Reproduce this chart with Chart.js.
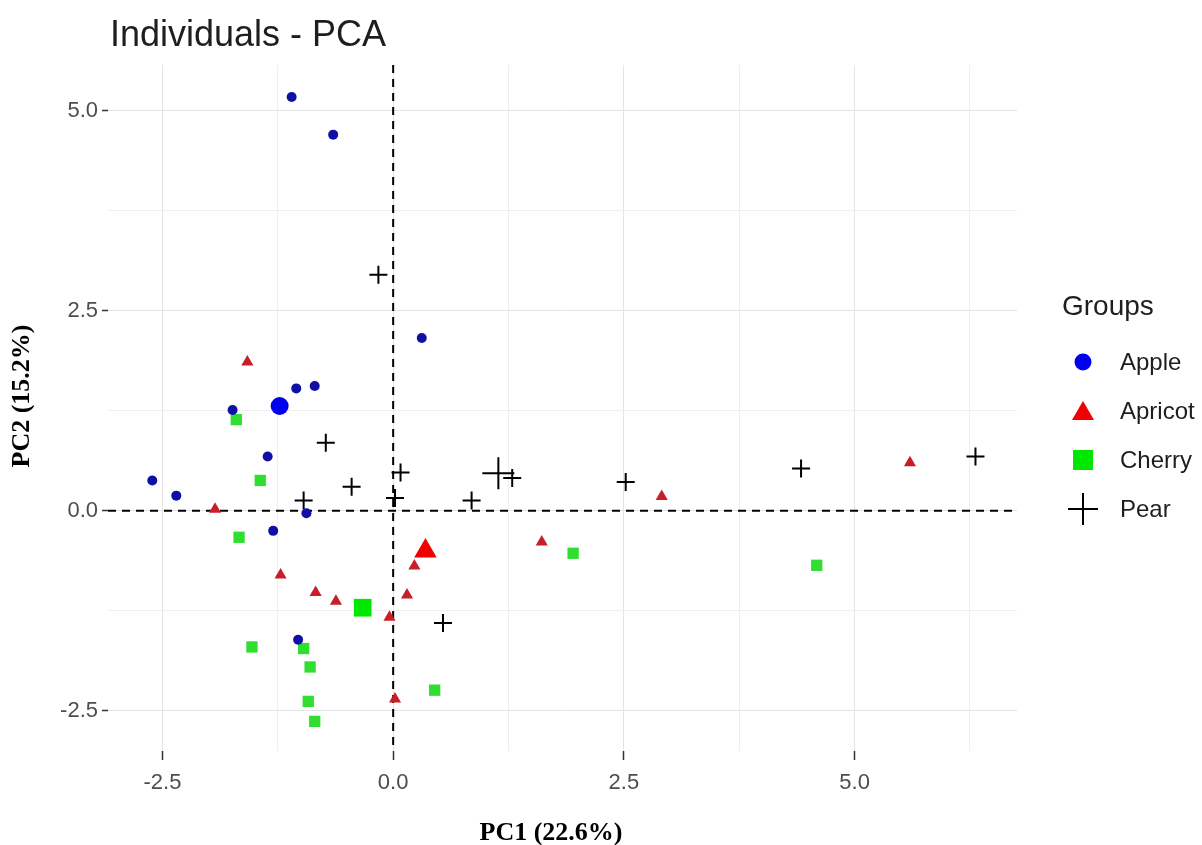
<!DOCTYPE html>
<html>
<head>
<meta charset="utf-8">
<title>Individuals - PCA</title>
<script src="https://cdn.jsdelivr.net/npm/chart.js@4.4.0/dist/chart.umd.min.js"></script>
<style>
    html, body { margin: 0; padding: 0; background: #fff; }
    #wrap { width: 1202px; height: 845px; }
</style>
</head>
<body>
<div id="wrap"><canvas id="pcaChart" width="1202" height="845"></canvas></div>
<script>
const groups = ['Apple', 'Apricot', 'Cherry', 'Pear'];

// individuals (PC1, PC2)
const appleX = [-1.10, -0.65, 0.31, -1.05, -0.85, -1.74, -1.36, -2.61, -2.35, -0.94, -1.30, -1.03];
const appleY = [5.17, 4.70, 2.16, 1.53, 1.56, 1.26, 0.68, 0.38, 0.19, -0.03, -0.25, -1.61];

const apricotX = [-1.58, -1.93, -1.22, -0.84, -0.62, -0.04, 0.02, 0.15, 0.23, 1.61, 2.91, 5.60];
const apricotY = [1.86, 0.02, -0.80, -1.02, -1.13, -1.33, -2.35, -1.05, -0.69, -0.39, 0.18, 0.60];

const cherryX = [-1.70, -1.44, -1.67, -1.53, -0.97, -0.90, -0.92, -0.85, 0.45, 1.95, 4.59];
const cherryY = [1.14, 0.38, -0.33, -1.70, -1.72, -1.95, -2.38, -2.63, -2.24, -0.53, -0.68];

const pearX = [-0.16, -0.73, -0.97, -0.45, 0.02, 0.08, 0.85, 1.29, 0.54, 2.52, 4.42, 6.31];
const pearY = [2.95, 0.85, 0.13, 0.30, 0.16, 0.48, 0.13, 0.41, -1.40, 0.36, 0.53, 0.68];

// group mean points (the big markers)
const meanX = [-1.23, 0.35, -0.33, 1.14];
const meanY = [1.31, -0.50, -1.21, 0.47];

const xTicks = [-2.5, -1.25, 0, 1.25, 2.5, 3.75, 5, 6.25];
const yTicks = [-2.5, -1.25, 0, 1.25, 2.5, 3.75, 5];
const majorTicks = [-2.5, 0, 2.5, 5];

const pointColors = ['#1010a6', '#c81e2a', '#30de30', '#000000'];
const meanColors = ['#0000f0', '#f00000', '#00e800', '#000000'];
const shapes = ['circle', 'triangle', 'rect', 'cross'];
const smallRadius = [5, 7, 8, 9];
const bigRadius = [9, 13, 12.5, 16];

const sans = "'Liberation Sans', Arial, sans-serif";
const serif = "'Liberation Serif', 'Times New Roman', serif";

const isMajor = v => majorTicks.some(m => Math.abs(m - v) < 1e-6);

function toPoints(xs, ys) {
    return xs.map((x, i) => ({ x: x, y: ys[i] }));
}

const allX = [appleX, apricotX, cherryX, pearX];
const allY = [appleY, apricotY, cherryY, pearY];

const datasets = [];
groups.forEach((g, i) => {
    datasets.push({
        label: g,
        data: toPoints(allX[i], allY[i]),
        pointStyle: shapes[i],
        pointRadius: smallRadius[i],
        backgroundColor: pointColors[i],
        borderColor: pointColors[i],
        borderWidth: shapes[i] === 'cross' ? 2 : 0
    });
});
groups.forEach((g, i) => {
    datasets.push({
        label: g + ' mean',
        data: [{ x: meanX[i], y: meanY[i] }],
        pointStyle: shapes[i],
        pointRadius: bigRadius[i],
        backgroundColor: meanColors[i],
        borderColor: meanColors[i],
        borderWidth: shapes[i] === 'cross' ? 2 : 0
    });
});

function drawMarker(ctx, shape, x, y, color) {
    ctx.save();
    ctx.fillStyle = color;
    ctx.strokeStyle = color;
    ctx.beginPath();
    if (shape === 'circle') {
        ctx.arc(x, y, 8.5, 0, Math.PI * 2);
        ctx.fill();
    } else if (shape === 'triangle') {
        ctx.moveTo(x, y - 10);
        ctx.lineTo(x + 11, y + 9);
        ctx.lineTo(x - 11, y + 9);
        ctx.closePath();
        ctx.fill();
    } else if (shape === 'rect') {
        ctx.rect(x - 10, y - 10, 20, 20);
        ctx.fill();
    } else {
        ctx.lineWidth = 2;
        ctx.moveTo(x - 15, y);
        ctx.lineTo(x + 15, y);
        ctx.moveTo(x, y - 16);
        ctx.lineTo(x, y + 16);
        ctx.stroke();
    }
    ctx.restore();
}

const pcaDecor = {
    id: 'pcaDecor',
    beforeDatasetsDraw(chart) {
        const { ctx, chartArea: a, scales } = chart;
        const x0 = scales.x.getPixelForValue(0);
        const y0 = scales.y.getPixelForValue(0);
        ctx.save();
        ctx.strokeStyle = '#000';
        ctx.lineWidth = 2;
        ctx.setLineDash([8, 6]);
        ctx.beginPath();
        ctx.moveTo(a.left, y0);
        ctx.lineTo(a.right, y0);
        ctx.moveTo(x0, a.top);
        ctx.lineTo(x0, a.bottom);
        ctx.stroke();
        ctx.restore();
    },
    afterDraw(chart) {
        const ctx = chart.ctx;
        ctx.save();
        // title
        ctx.fillStyle = '#1e1e1e';
        ctx.font = '36px ' + sans;
        ctx.textAlign = 'left';
        ctx.textBaseline = 'alphabetic';
        ctx.fillText('Individuals - PCA', 110, 46);

        // axis titles
        ctx.fillStyle = '#000';
        ctx.font = 'bold 26px ' + serif;
        ctx.textAlign = 'center';
        ctx.fillText('PC1 (22.6%)', 551, 840);
        ctx.save();
        ctx.translate(22, 396);
        ctx.rotate(-Math.PI / 2);
        ctx.textBaseline = 'middle';
        ctx.fillText('PC2 (15.2%)', 0, 0);
        ctx.restore();

        // legend
        ctx.fillStyle = '#1e1e1e';
        ctx.textAlign = 'left';
        ctx.textBaseline = 'alphabetic';
        ctx.font = '28px ' + sans;
        ctx.fillText('Groups', 1062, 315);
        ctx.font = '24px ' + sans;
        ctx.textBaseline = 'middle';
        groups.forEach((g, i) => {
            const y = 362 + i * 49;
            drawMarker(ctx, shapes[i], 1083, y, meanColors[i]);
            ctx.fillStyle = '#1e1e1e';
            ctx.fillText(g, 1120, y + 1);
        });
        ctx.restore();
    }
};

document.addEventListener('DOMContentLoaded', () => {
    const ctx = document.getElementById('pcaChart');

    const config = {
        type: 'scatter',
        data: { datasets: datasets },
        options: {
            responsive: false,
            animation: false,
            events: [],
            layout: { padding: { top: 65, right: 185, bottom: 0, left: 0 } },
            plugins: {
                legend: { display: false },
                tooltip: { enabled: false },
                title: { display: false }
            },
            scales: {
                x: {
                    type: 'linear',
                    min: -3.09,
                    max: 6.76,
                    afterBuildTicks: s => { s.ticks = xTicks.map(v => ({ value: v })); },
                    afterFit: s => { s.height = 94; },
                    border: { display: false },
                    grid: {
                        color: c => (c.tick && isMajor(c.tick.value)) ? '#e4e4e4' : '#efefef',
                        tickColor: c => (c.tick && isMajor(c.tick.value)) ? '#333' : 'rgba(0,0,0,0)',
                        tickLength: 9,
                        tickWidth: 1.5,
                        lineWidth: 1
                    },
                    ticks: {
                        autoSkip: false,
                        maxRotation: 0,
                        padding: 10,
                        color: '#4d4d4d',
                        font: { family: sans, size: 22 },
                        callback: v => isMajor(v) ? v.toFixed(1) : ''
                    }
                },
                y: {
                    type: 'linear',
                    min: -3.0,
                    max: 5.57,
                    afterBuildTicks: s => { s.ticks = yTicks.map(v => ({ value: v })); },
                    afterFit: s => { s.width = 108; },
                    border: { display: false },
                    grid: {
                        color: c => (c.tick && isMajor(c.tick.value)) ? '#e4e4e4' : '#efefef',
                        tickColor: c => (c.tick && isMajor(c.tick.value)) ? '#333' : 'rgba(0,0,0,0)',
                        tickLength: 6,
                        tickWidth: 1.5,
                        lineWidth: 1
                    },
                    ticks: {
                        autoSkip: false,
                        padding: 4,
                        color: '#4d4d4d',
                        font: { family: sans, size: 22 },
                        callback: v => isMajor(v) ? v.toFixed(1) : ''
                    }
                }
            }
        },
        plugins: [pcaDecor]
    };

    new Chart(ctx, config);
});
</script>
</body>
</html>
